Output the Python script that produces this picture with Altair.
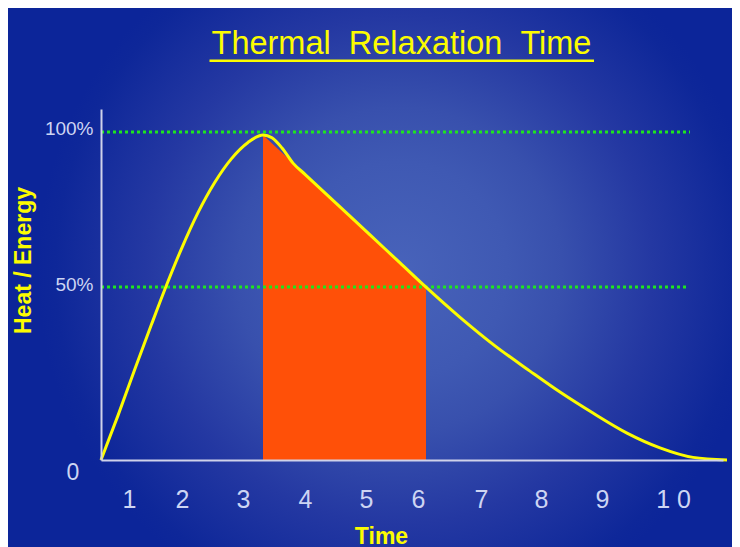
import altair as alt
import pandas as pd

# ---- values ----
# time (x) and heat/energy in percent of the peak (y) along the yellow curve
CURVE_T = [0.533, 0.817, 1.095, 1.372, 1.595, 1.872, 2.15, 2.428, 2.705, 2.983, 3.233,
           3.383, 3.55, 3.733, 3.933, 4.35, 5.017, 5.517, 5.95,
           6.517, 7.1, 7.683, 8.183, 8.733, 9.3, 9.85, 10.4, 10.967]
CURVE_V = [0, 13.6, 27.6, 41.2, 51.9, 64.3, 75.4, 84.6, 91.8, 96.8, 99.1,
           98.2, 95.1, 90.5, 87.1, 80.0, 68.6, 60.1, 52.7,
           43.5, 34.8, 27.1, 20.7, 14.3, 8.2, 3.7, 0.8, 0]

# orange shaded region (from the peak down to the 50% level)
SHADE_T = [3.233, 5.95]
SHADE_V = [99.1, 52.7]

# green dotted reference levels (100% and 50%)
LEVEL_V = [100, 52.7]
LEVEL_START_T = [0.533, 0.533]
LEVEL_END_T = [10.35, 10.3]

# axis tick labels
XTICK_T = [1.0, 1.883, 2.9, 3.933, 4.95, 5.817, 6.867, 7.867, 8.883, 10.067]
XTICK_TEXT = ["1", "2", "3", "4", "5", "6", "7", "8", "9", "1 0"]
YTICK_V = [100, 52.7]
YTICK_TEXT = ["100%", "50%"]
ZERO_T = [0.533]
ZERO_V = [0]
ZERO_TEXT = ["0"]

TITLE = "Thermal\u00a0\u00a0Relaxation\u00a0\u00a0Time"
X_TITLE = "Time"
Y_TITLE = "Heat / Energy"

# ---- layout / style ----
W, H = 622, 351
PAD = {"left": 93, "top": 101, "right": 9, "bottom": 87}
FONT = "Liberation Sans"
YELLOW = "#fcfc00"
LABEL = "#cdd5f3"

curve = pd.DataFrame({"t": CURVE_T, "v": CURVE_V})
shade = pd.DataFrame({"t": SHADE_T, "v": SHADE_V})
levels = pd.DataFrame({"t": LEVEL_START_T, "t1": LEVEL_END_T, "v": LEVEL_V})
zero = pd.DataFrame({"t": ZERO_T, "v": ZERO_V, "label": ZERO_TEXT})
one = pd.DataFrame({"k": [0]})

xs = alt.Scale(domain=[0.533, 10.9], nice=False, zero=False)
ys = alt.Scale(domain=[0, 107], nice=False, zero=False)

x_expr = "[" + ",".join("'%s'" % s for s in XTICK_TEXT) + "][indexof([" + \
    ",".join(str(v) for v in XTICK_T) + "], datum.value)]"
y_expr = "[" + ",".join("'%s'" % s for s in YTICK_TEXT) + "][indexof([" + \
    ",".join(str(v) for v in YTICK_V) + "], datum.value)]"

xaxis = alt.Axis(
    title=X_TITLE, values=XTICK_T, labelExpr=x_expr, grid=False, ticks=False,
    domainColor="#cfd2ea", domainWidth=2, labelColor=LABEL, labelFont=FONT,
    labelFontSize=25, labelPadding=27, labelFlush=False, labelOverlap=False,
    titleColor=YELLOW, titleFont=FONT, titleFontSize=23, titleFontWeight="bold",
    titleX=280, titleY=83, titleBaseline="alphabetic", titleAlign="center",
    zindex=1)
yaxis = alt.Axis(
    title=Y_TITLE, values=YTICK_V, labelExpr=y_expr, grid=False, ticks=False,
    domainColor="#cfd2ea", domainWidth=2, labelColor=LABEL, labelFont=FONT,
    labelFontSize=19, labelPadding=8, labelOffset=-3, labelBaseline="middle",
    labelOverlap=False,
    titleColor=YELLOW, titleFont=FONT, titleFontSize=23, titleFontWeight="bold",
    titleX=-71, titleY=151, titleAngle=270, titleBaseline="alphabetic",
    titleAlign="center", zindex=1)

X = alt.X("t:Q", scale=xs, axis=xaxis)
Y = alt.Y("v:Q", scale=ys, axis=yaxis)

gradient = alt.RadialGradient(
    gradient="radial",
    stops=[
        alt.GradientStop(offset=0, color="#4863ba"),
        alt.GradientStop(offset=0.3, color="#3f59b3"),
        alt.GradientStop(offset=0.45, color="#3850ad"),
        alt.GradientStop(offset=0.7, color="#2438a2"),
        alt.GradientStop(offset=0.95, color="#0e2799"),
        alt.GradientStop(offset=1, color="#0c2599"),
    ],
    x1=0.54, y1=0.49, r1=0, x2=0.54, y2=0.49, r2=0.5)

bg = alt.Chart(one).mark_rect(fill=gradient, strokeWidth=0).encode(
    x=alt.value(-PAD["left"]), x2=alt.value(W + PAD["right"]),
    y=alt.value(-PAD["top"]), y2=alt.value(H + PAD["bottom"]))

area = alt.Chart(shade).mark_area(color="#ff5008", interpolate="linear", opacity=1).encode(
    x=X, y=Y)

rules = alt.Chart(levels).mark_rule(color="#1ee61e", strokeWidth=3, strokeDash=[3, 3]).encode(
    x=X, x2="t1:Q", y=Y)

line = alt.Chart(curve).mark_line(color=YELLOW, strokeWidth=3, interpolate="monotone").encode(
    x=X, y=Y)

zero_lbl = alt.Chart(zero).mark_text(
    color=LABEL, font=FONT, fontSize=23, align="center", baseline="middle",
    dx=-28, dy=13).encode(x=X, y=Y, text="label:N")

title = alt.Chart(one).mark_text(
    text=TITLE, color=YELLOW, font=FONT, fontSize=32.5, align="center",
    baseline="alphabetic").encode(x=alt.value(300.5), y=alt.value(-54.7))

underline = alt.Chart(one).mark_rule(color=YELLOW, strokeWidth=2.5).encode(
    x=alt.value(108.5), x2=alt.value(493), y=alt.value(-48.3))

chart = alt.layer(bg, area, rules, line, zero_lbl, title, underline).properties(
    width=W, height=H, padding=PAD,
    autosize=alt.AutoSizeParams(type="none"),
    background="#0f2a9c",
).configure_view(strokeWidth=0)

chart.save("out.html", embed_options={"renderer": "svg", "actions": False})
